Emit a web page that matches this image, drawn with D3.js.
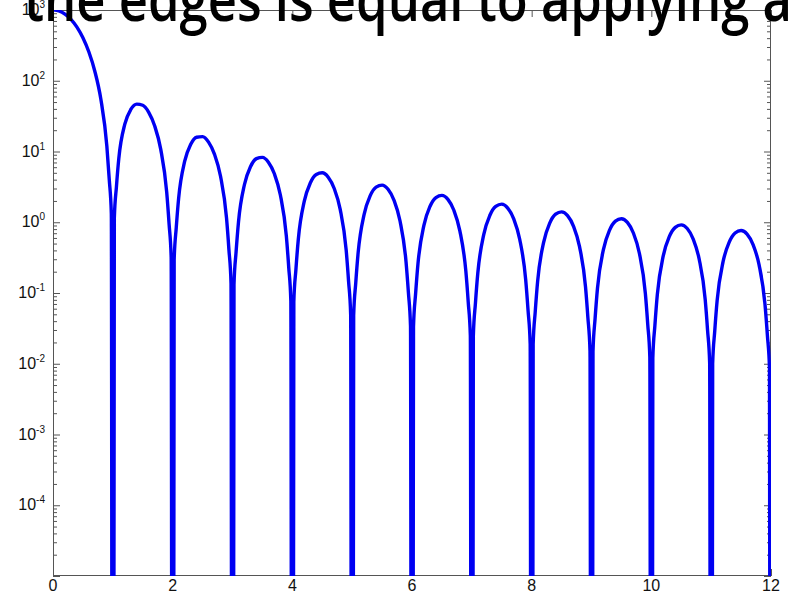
<!DOCTYPE html>
<html>
<head>
<meta charset="utf-8">
<script src="https://cdn.jsdelivr.net/npm/d3@7"></script>
<style>
  html, body { margin: 0; padding: 0; background: #fff; }
  svg { display: block; }
</style>
</head>
<body>
<svg id="chart" width="792" height="600"></svg>
<script>
// Sampled power pattern: value at x = 0, then one row of samples per unit
// interval [n, n+1] at the offsets below, then a null at each integer.
const peakValue = 1000;
const nullFloor = 1e-20;
const sampleOffsets = [0.025, 0.06, 0.1, 0.2, 0.3, 0.4, 0.5, 0.6, 0.7, 0.8, 0.9, 0.94, 0.975];
const lobeLevels = [
  [995.8, 988.2, 967.5, 875.1, 736.8, 572.8, 405.3, 254.6, 135.3, 54.7, 11.94, 4.026, 1.310],
  [1.139, 3.166, 7.996, 24.31, 39.24, 46.76, 45.03, 35.80, 22.95, 10.80, 2.680, 0.9452, 0.3159],
  [0.2946, 0.8383, 2.194, 7.232, 12.54, 15.91, 16.21, 13.56, 9.097, 4.465, 1.150, 0.4116, 0.1388],
  [0.1324, 0.3799, 1.007, 3.418, 6.090, 7.928, 8.271, 7.071, 4.844, 2.424, 0.6361, 0.2292, 0.0776],
  [0.07493, 0.2158, 0.5756, 1.984, 3.587, 4.734, 5.003, 4.331, 3.002, 1.519, 0.4030, 0.1458, 0.04949],
  [0.04812, 0.1389, 0.3720, 1.295, 2.361, 3.143, 3.349, 2.922, 2.041, 1.041, 0.2779, 0.1008, 0.03429],
  [0.03349, 0.09687, 0.2600, 0.9106, 1.671, 2.237, 2.398, 2.104, 1.477, 0.7570, 0.2032, 0.07386, 0.02515],
  [0.02465, 0.07137, 0.1919, 0.6753, 1.244, 1.674, 1.801, 1.587, 1.119, 0.5754, 0.1550, 0.05643, 0.01923],
  [0.01890, 0.05476, 0.1475, 0.5206, 0.9626, 1.299, 1.402, 1.239, 0.8761, 0.4520, 0.1221, 0.04451, 0.01518],
  [0.01494, 0.04334, 0.1168, 0.4136, 0.7667, 1.037, 1.123, 0.9944, 0.7048, 0.3645, 0.09871, 0.03600, 0.01228],
  [0.01211, 0.03515, 0.09484, 0.3365, 0.6251, 0.8473, 0.9190, 0.8156, 0.5792, 0.3001, 0.08143, 0.02972, 0.01015],
  [0.01002, 0.02908, 0.07852, 0.2791, 0.5193, 0.7052, 0.7661, 0.6811, 0.4844, 0.2514, 0.06832, 0.02495, 0.008521]
];
const xTicks = [0, 2, 4, 6, 8, 10, 12];
const yExponents = [-4, -3, -2, -1, 0, 1, 2, 3];
const headline = "the edges is equal to applying a";

const svg = d3.select("#chart");
const plotLeft = 53, plotRight = 771, plotTop = 10, plotBottom = 576;

const x = d3.scaleLinear().domain([0, 12]).range([plotLeft, plotRight]);
const y = d3.scaleLog().domain([1e-5, 1e3]).range([plotBottom, plotTop]);

// assemble the sampled curve
const points = [[0, peakValue]];
lobeLevels.forEach((row, n) => {
  row.forEach((v, i) => points.push([n + sampleOffsets[i], v]));
  points.push([n + 1, nullFloor]);
});

svg.append("defs").append("clipPath").attr("id", "plotClip")
  .append("rect").attr("x", plotLeft).attr("y", plotTop)
  .attr("width", plotRight - plotLeft).attr("height", plotBottom - plotTop);

const axisColor = "#555";

// inward ticks on all four sides
const minorVals = [];
for (let e = -5; e < 3; e++) for (let m = 2; m <= 9; m++) minorVals.push(m * Math.pow(10, e));
const majorVals = d3.range(-5, 4).map(e => Math.pow(10, e));

const yAxisL = d3.axisRight(y).tickValues(majorVals).tickSize(7).tickFormat("");
const yAxisLm = d3.axisRight(y).tickValues(minorVals).tickSize(4).tickFormat("");
const yAxisR = d3.axisLeft(y).tickValues(majorVals).tickSize(7).tickFormat("");
const yAxisRm = d3.axisLeft(y).tickValues(minorVals).tickSize(4).tickFormat("");
const xAxisB = d3.axisTop(x).tickValues(xTicks).tickSize(7).tickFormat("");
const xAxisT = d3.axisBottom(x).tickValues(xTicks).tickSize(7).tickFormat("");

function styleAxis(g) {
  g.select(".domain").remove();
  g.selectAll("line").attr("stroke", axisColor).attr("stroke-width", 1);
}
svg.append("g").attr("transform", `translate(${plotLeft},0)`).call(yAxisL).call(styleAxis);
svg.append("g").attr("transform", `translate(${plotLeft},0)`).call(yAxisLm).call(styleAxis);
svg.append("g").attr("transform", `translate(${plotRight},0)`).call(yAxisR).call(styleAxis);
svg.append("g").attr("transform", `translate(${plotRight},0)`).call(yAxisRm).call(styleAxis);
svg.append("g").attr("transform", `translate(0,${plotBottom})`).call(xAxisB).call(styleAxis);
svg.append("g").attr("transform", `translate(0,${plotTop})`).call(xAxisT).call(styleAxis);

svg.append("rect").attr("x", plotLeft + 0.5).attr("y", plotTop + 0.5)
  .attr("width", plotRight - plotLeft - 1).attr("height", plotBottom - plotTop - 1)
  .attr("fill", "none").attr("stroke", axisColor).attr("stroke-width", 1);

// tick labels
const labelFont = "'Liberation Sans', Arial, Helvetica, sans-serif";
svg.append("g").selectAll("text").data(xTicks).join("text")
  .attr("x", d => x(d)).attr("y", plotBottom + 15)
  .attr("text-anchor", "middle")
  .attr("font-family", labelFont).attr("font-size", 16).attr("fill", "#111")
  .text(d => d);

const yl = svg.append("g").selectAll("text").data(yExponents).join("text")
  .attr("x", plotLeft - 8).attr("y", d => y(Math.pow(10, d)) + 5)
  .attr("text-anchor", "end")
  .attr("font-family", labelFont).attr("font-size", 16).attr("fill", "#111");
yl.append("tspan").text("10");
yl.append("tspan").attr("dy", -7).attr("font-size", 10).text(d => d);

// curve
const line = d3.line()
  .x(d => x(d[0]))
  .y(d => y(d[1]))
  .curve(d3.curveMonotoneX);

svg.append("path")
  .datum(points)
  .attr("clip-path", "url(#plotClip)")
  .attr("fill", "none")
  .attr("stroke", "#0000f2")
  .attr("stroke-width", 3.4)
  .attr("stroke-linejoin", "round")
  .attr("d", line);

// headline text running across the top edge
svg.append("text")
  .attr("x", 24).attr("y", 21)
  .attr("font-family", "'Open Sans', 'Noto Sans', sans-serif")
  .attr("font-size", 62)
  .attr("font-weight", 600)
  .attr("fill", "#000")
  .attr("textLength", 768)
  .attr("lengthAdjust", "spacingAndGlyphs")
  .text(headline);
</script>
</body>
</html>
